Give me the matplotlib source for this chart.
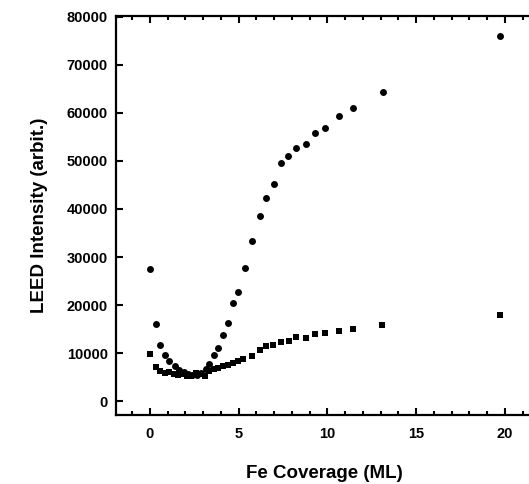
import matplotlib
matplotlib.use("Agg")
import matplotlib.pyplot as plt
from matplotlib.ticker import MultipleLocator

plt.rcParams['font.family'] = ['Liberation Sans', 'DejaVu Sans']

# circles (upper branch)
circ_x = [0.04, 0.34, 0.58, 0.85, 1.1, 1.4, 1.65, 1.9, 2.15, 2.4, 2.65, 2.9, 3.15, 3.35,
          3.59, 3.87, 4.13, 4.41, 4.68, 4.98, 5.39, 5.77, 6.2, 6.57, 6.99, 7.4, 7.81,
          8.23, 8.77, 9.31, 9.84, 10.67, 11.47, 13.13, 19.72]
circ_y = [27400, 16000, 11600, 9500, 8400, 7300, 6500, 6000, 5600, 5400, 5500, 5900, 6600, 7700,
          9600, 11100, 13800, 16250, 20350, 22700, 27700, 33400, 38500, 42350, 45250, 49650, 51000,
          52750, 53500, 55900, 56800, 59400, 60950, 64300, 75970]

# squares (lower branch)
sq_x = [0.04, 0.34, 0.58, 0.85, 1.1, 1.35, 1.6, 1.85, 2.1, 2.35, 2.6, 2.85, 3.1, 3.35,
        3.6, 3.85, 4.13, 4.41, 4.68, 4.98, 5.26, 5.78, 6.2, 6.57, 6.95, 7.4, 7.85,
        8.23, 8.79, 9.33, 9.86, 10.67, 11.47, 13.1, 19.73]
sq_y = [9800, 7000, 6300, 5750, 6100, 5700, 5500, 5600, 5300, 5200, 5800, 5600, 5300, 6200,
        6600, 6900, 7200, 7600, 8000, 8300, 8680, 9440, 10600, 11450, 11650, 12350, 12560,
        13400, 13060, 13900, 14230, 14580, 14930, 15770, 17850]

fig = plt.figure(figsize=(5.29, 4.84), dpi=100)
ax = fig.add_axes([0.2193, 0.1426, 0.789, 0.8244])

ax.plot(circ_x, circ_y, 'o', color='black', markersize=5.0, markeredgewidth=0)
ax.plot(sq_x, sq_y, 's', color='black', markersize=4.5, markeredgewidth=0)

ax.set_xlim(-1.9, 21.6)
ax.set_ylim(-2900, 80200)

ax.xaxis.set_major_locator(MultipleLocator(5))
ax.xaxis.set_minor_locator(MultipleLocator(1))
ax.yaxis.set_major_locator(MultipleLocator(10000))

ax.tick_params(axis='x', which='both', direction='in', top=True, bottom=True, width=1.5)
ax.tick_params(axis='x', which='major', length=5, pad=9)
ax.tick_params(axis='x', which='minor', length=3)
ax.tick_params(axis='y', which='major', direction='in', left=True, right=False,
               length=5, width=1.5, pad=6)

for lab in ax.get_xticklabels() + ax.get_yticklabels():
    lab.set_fontsize(10.5)
    lab.set_fontweight('bold')

for s in ax.spines.values():
    s.set_linewidth(1.6)

ax.set_xlabel('Fe Coverage (ML)', fontsize=13.5, fontweight='bold', labelpad=17)
ax.set_ylabel('LEED Intensity (arbit.)', fontsize=13.5, fontweight='bold', labelpad=13)

fig.savefig('out.png', dpi=100)
